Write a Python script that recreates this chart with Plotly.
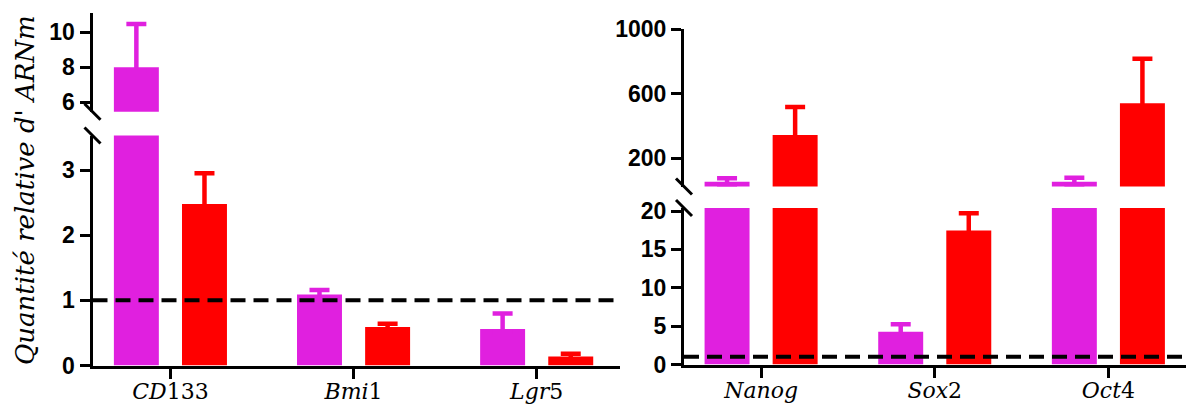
import plotly.graph_objects as go

W, H = 1186, 408

# ---------------- data ----------------
genes_left = ["CD133", "Bmi1", "Lgr5"]
labels_left = ["<i>CD</i>133", "<i>Bmi</i>1", "<i>Lgr</i>5"]
magenta_left = [8.0, 1.09, 0.56]
magenta_left_err = [2.45, 0.07, 0.24]
red_left = [2.48, 0.59, 0.14]
red_left_err = [0.47, 0.05, 0.04]

genes_right = ["Nanog", "Sox2", "Oct4"]
labels_right = ["<i>Nanog</i>", "<i>Sox</i>2", "<i>Oct</i>4"]
magenta_right = [53, 4.26, 53]
magenta_right_err = [22, 1.0, 25]
red_right = [343, 17.46, 540]
red_right_err = [174, 2.25, 277]

reference_level = 1

left_ticks_low = [0, 1, 2, 3]
left_ticks_high = [6, 8, 10]
right_ticks_low = [0, 5, 10, 15, 20]
right_ticks_high = [200, 600, 1000]

# ---------------- styling ----------------
MAGENTA = "#E020DF"
RED = "#FF0000"
TICKFONT = dict(family="Liberation Sans, Arial, sans-serif", size=23, color="black", weight="bold")
XFONT = dict(family="DejaVu Serif, serif", size=22, color="black")


def px_x(p):
    return p / W


def px_y(p):
    return 1 - p / H


# axis geometry (pixels)
LX0, LX1 = 92.5, 620
RX0, RX1 = 684, 1186
L_LOW = (365.5, 135.5)
L_HIGH = (111.7, 13)
R_LOW = (364.5, 208)
R_HIGH = (186.5, 29.3)

left_low_range = [0, 3.53]
left_high_range = [5.47, 11.08]
right_low_range = [0, 20.4]
right_high_range = [23, 1000]

fig = go.Figure()


def add_pair(genes, mag, mag_err, red, red_err, xa, ya, rng, dom, off, wid):
    px_per_unit = (dom[0] - dom[1]) / (rng[1] - rng[0])
    shoe = 3.0 / px_per_unit  # keep the lower cap hidden inside the bar
    for vals, errs, col, o in ((mag, mag_err, MAGENTA, -off - wid / 2),
                               (red, red_err, RED, off - wid / 2)):
        seg_vals = [v if v > rng[0] else None for v in vals]
        seg_errs = [e if (rng[0] < v <= rng[1]) else None for v, e in zip(vals, errs)]
        fig.add_trace(go.Bar(
            x=genes, y=seg_vals, xaxis=xa, yaxis=ya,
            offset=o, width=wid,
            marker=dict(color=col, line=dict(width=0)),
            error_y=dict(type="data", symmetric=False,
                         array=seg_errs,
                         arrayminus=[shoe] * len(vals),
                         color=col, thickness=4.5, width=10),
            showlegend=False, hoverinfo="skip",
        ))


add_pair(genes_left, magenta_left, magenta_left_err, red_left, red_left_err,
         "x", "y", left_low_range, L_LOW, 0.186, 0.2455)
add_pair(genes_left, magenta_left, magenta_left_err, red_left, red_left_err,
         "x", "y2", left_high_range, L_HIGH, 0.186, 0.2455)
add_pair(genes_right, magenta_right, magenta_right_err, red_right, red_right_err,
         "x2", "y3", right_low_range, R_LOW, 0.196, 0.259)
add_pair(genes_right, magenta_right, magenta_right_err, red_right, red_right_err,
         "x2", "y4", right_high_range, R_HIGH, 0.196, 0.259)

axis_common = dict(showline=True, linecolor="black", linewidth=3, ticks="outside",
                   ticklen=10, tickwidth=3, tickcolor="black", showgrid=False,
                   zeroline=False, fixedrange=True, automargin=False)


def yax(dom, rng, vals, anchor):
    return dict(domain=[px_y(dom[0]), px_y(dom[1])], range=rng, anchor=anchor,
                tickmode="array", tickvals=vals, ticktext=[str(v) for v in vals],
                tickfont=TICKFONT, **axis_common)


fig.update_layout(
    width=W, height=H,
    margin=dict(l=0, r=0, t=0, b=0, autoexpand=False),
    paper_bgcolor="white", plot_bgcolor="rgba(0,0,0,0)",
    barmode="overlay", showlegend=False,
    xaxis=dict(domain=[px_x(LX0), px_x(LX1)], range=[-0.4255, 2.455], anchor="y",
               type="category", tickmode="array", tickvals=genes_left, ticktext=labels_left,
               tickfont=XFONT, ticklabelstandoff=-6, **axis_common),
    xaxis2=dict(domain=[px_x(RX0), px_x(RX1)], range=[-0.444, 2.447], anchor="y3",
                type="category", tickmode="array", tickvals=genes_right, ticktext=labels_right,
                tickfont=XFONT, ticklabelstandoff=-6, **axis_common),
    yaxis=yax(L_LOW, left_low_range, left_ticks_low, "x"),
    yaxis2=yax(L_HIGH, left_high_range, left_ticks_high, "x"),
    yaxis3=yax(R_LOW, right_low_range, right_ticks_low, "x2"),
    yaxis4=yax(R_HIGH, right_high_range, right_ticks_high, "x2"),
)

shapes = []
# reference dashed lines at 1
for xr, yr in (("x domain", "y"), ("x2 domain", "y3")):
    shapes.append(dict(type="line", xref=xr, yref=yr, x0=0, x1=1,
                       y0=reference_level, y1=reference_level,
                       line=dict(color="black", width=4, dash="15px,8px")))
# axis-break slashes
for ax_x, edges in ((LX0, (L_HIGH[0], L_LOW[1])), (RX0, (R_HIGH[0], R_LOW[1]))):
    for ey in edges:
        shapes.append(dict(type="line", xref="paper", yref="paper",
                           x0=px_x(ax_x - 8), x1=px_x(ax_x + 8),
                           y0=px_y(ey - 8), y1=px_y(ey + 8),
                           line=dict(color="black", width=3)))
fig.update_layout(shapes=shapes)

fig.add_annotation(
    xref="paper", yref="paper", x=px_x(25), y=px_y(190),
    text="<i>Quantité relative d' ARNm</i>", textangle=-90, showarrow=False,
    xanchor="center", yanchor="middle",
    font=dict(family="DejaVu Serif, serif", size=26, color="black"),
)

fig.write_html("out.html",
               config={"displayModeBar": False, "staticPlot": True},
               post_script="document.documentElement.style.margin='0';"
                           "document.body.style.margin='0';"
                           "document.body.style.overflow='hidden';")
